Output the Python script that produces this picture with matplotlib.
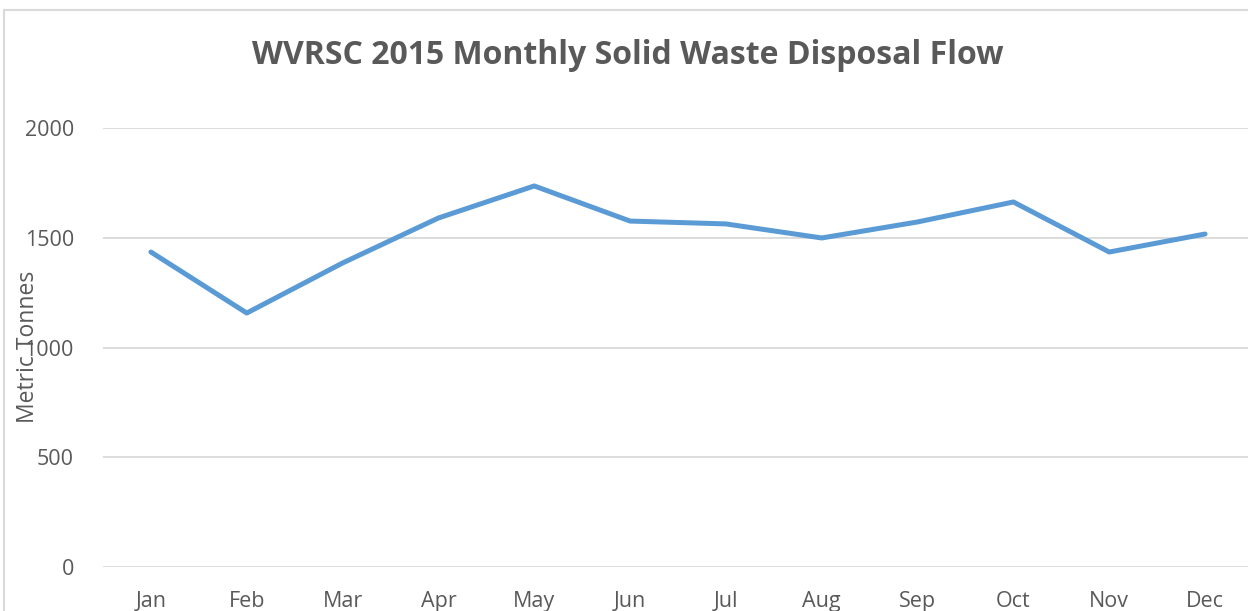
import matplotlib.pyplot as plt
from matplotlib.patches import Rectangle

months = ['Jan', 'Feb', 'Mar', 'Apr', 'May', 'Jun', 'Jul', 'Aug', 'Sep', 'Oct', 'Nov', 'Dec']
tonnes = [1435, 1157, 1385, 1590, 1736, 1576, 1563, 1499, 1572, 1663, 1435, 1517]
yticks = [0, 500, 1000, 1500, 2000]

plt.rcParams['font.family'] = ['Open Sans', 'DejaVu Sans']
txt = '#595959'
grid = '#d9d9d9'

W, H = 1248, 611
fig = plt.figure(figsize=(W / 100, H / 100), dpi=100)

# outer chart border (runs off the right/bottom edge)
fig.patches.append(Rectangle((4 / W, -0.1), 1.2, 1 - 10 / H + 0.1,
                             transform=fig.transFigure, fill=False,
                             edgecolor=grid, lw=1.5))

ax = fig.add_axes([103 / W, 44 / H, 1150 / W, (567 - 128) / H])
x = list(range(len(months)))
ax.plot(x, tonnes, color='#5b9bd5', lw=3.6, solid_joinstyle='round', solid_capstyle='round', zorder=3)

ax.set_xlim(-0.5, 11.5)
ax.set_ylim(0, 2000)
ax.set_yticks(yticks)
ax.set_yticklabels([str(v) for v in yticks])
ax.set_xticks(x)
ax.set_xticklabels(months)
ax.grid(axis='y', color=grid, lw=1.3)
ax.set_axisbelow(True)
for s in ax.spines.values():
    s.set_visible(False)
ax.tick_params(length=0, labelsize=15.5, colors=txt)
ax.tick_params(axis='y', pad=21)
ax.tick_params(axis='x', pad=17)

fig.text(28 / W, 1 - 347 / H, 'Metric Tonnes', rotation=90, ha='center', va='center',
         fontsize=16.5, color=txt)
fig.text(628 / W, 1 - 55 / H, 'WVRSC 2015 Monthly Solid Waste Disposal Flow',
         ha='center', va='center', fontsize=23, fontweight='bold', color=txt)

fig.savefig('out.png', dpi=100)
